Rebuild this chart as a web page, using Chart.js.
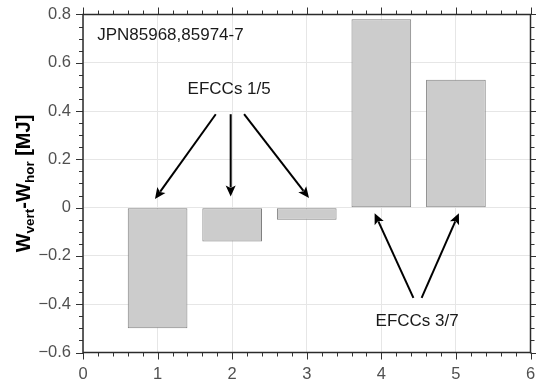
<!DOCTYPE html>
<html><head><meta charset="utf-8">
<script src="https://cdn.jsdelivr.net/npm/chart.js@4/dist/chart.umd.min.js"></script>
<style>html,body{margin:0;padding:0;background:#fff}</style>
</head><body>
<canvas id="c" width="536" height="382" style="display:block;width:536px;height:382px"></canvas>
<script>
// ---- data ----
const positions = [1, 2, 3, 4, 5];
const values = [-0.5, -0.14, -0.05, 0.78, 0.53];
const xTickValues = [0, 1, 2, 3, 4, 5, 6];
const yTickValues = [-0.6, -0.4, -0.2, 0, 0.2, 0.4, 0.6, 0.8];
const labelTexts = ['JPN85968,85974-7', 'EFCCs 1/5', 'EFCCs 3/7'];
const labelX = [0.19, 1.96, 4.48];
const labelY = [0.713, 0.49, -0.47];
const arrowFromX = [1.78, 1.98, 2.16, 4.43, 4.54];
const arrowFromY = [0.387, 0.387, 0.387, -0.374, -0.374];
const arrowToX = [0.965, 1.98, 3.03, 3.91, 5.04];
const arrowToY = [0.036, 0.046, 0.04, -0.023, -0.023];

const FONT = '"Liberation Sans", Arial, Helvetica, sans-serif';

function fmt(v) {
  const r = Math.round(v * 10) / 10;
  const s = String(Math.abs(r));
  return (r < 0 ? '\u2212' : '') + s;
}
function noPad(s) { s.paddingTop = 0; s.paddingBottom = 0; s.paddingLeft = 0; s.paddingRight = 0; }

const deco = {
  id: 'deco',
  afterDraw(chart) {
    const ctx = chart.ctx, xs = chart.scales.x, ys = chart.scales.y, a = chart.chartArea;
    ctx.save();
    // minor/major ticks on all four sides
    ctx.strokeStyle = '#333';
    ctx.lineWidth = 1;
    ctx.beginPath();
    const xmin = xTickValues[0], xmax = xTickValues[xTickValues.length - 1];
    const nx = Math.round((xmax - xmin) / 0.2);
    for (let i = 0; i <= nx; i++) {
      const px = Math.round(xs.getPixelForValue(xmin + i * 0.2)) + 0.5;
      const L = i % 5 === 0 ? 7 : 4;
      ctx.moveTo(px, a.bottom); ctx.lineTo(px, a.bottom + L);
      ctx.moveTo(px, a.top); ctx.lineTo(px, a.top - L);
    }
    const ymin = yTickValues[0], ymax = yTickValues[yTickValues.length - 1];
    const ny = Math.round((ymax - ymin) / 0.05);
    for (let i = 0; i <= ny; i++) {
      const py = Math.round(ys.getPixelForValue(ymin + i * 0.05)) + 0.5;
      const L = i % 4 === 0 ? 7 : 4;
      ctx.moveTo(a.left, py); ctx.lineTo(a.left - L, py);
      ctx.moveTo(a.right, py); ctx.lineTo(a.right + L, py);
    }
    ctx.stroke();
    // frame
    ctx.strokeStyle = '#2b2b2b';
    ctx.lineWidth = 1.5;
    ctx.strokeRect(a.left, a.top, a.right - a.left, a.bottom - a.top);

    // arrows
    ctx.strokeStyle = '#000'; ctx.fillStyle = '#000'; ctx.lineWidth = 2;
    for (let i = 0; i < arrowFromX.length; i++) {
      const x0 = xs.getPixelForValue(arrowFromX[i]), y0 = ys.getPixelForValue(arrowFromY[i]);
      const x1 = xs.getPixelForValue(arrowToX[i]), y1 = ys.getPixelForValue(arrowToY[i]);
      const ang = Math.atan2(y1 - y0, x1 - x0);
      const hl = 11, hw = 5;
      const bx = x1 - hl * Math.cos(ang), by = y1 - hl * Math.sin(ang);
      ctx.beginPath(); ctx.moveTo(x0, y0); ctx.lineTo(bx + 2 * Math.cos(ang), by + 2 * Math.sin(ang)); ctx.stroke();
      ctx.beginPath();
      ctx.moveTo(x1, y1);
      ctx.lineTo(bx - hw * Math.sin(ang), by + hw * Math.cos(ang));
      ctx.lineTo(bx + 2.5 * Math.cos(ang), by + 2.5 * Math.sin(ang));
      ctx.lineTo(bx + hw * Math.sin(ang), by - hw * Math.cos(ang));
      ctx.closePath(); ctx.fill();
    }

    // text labels
    ctx.fillStyle = '#1a1a1a';
    ctx.font = '17px ' + FONT;
    ctx.textBaseline = 'middle';
    for (let i = 0; i < labelTexts.length; i++) {
      ctx.textAlign = i === 0 ? 'left' : 'center';
      ctx.fillText(labelTexts[i], xs.getPixelForValue(labelX[i]), ys.getPixelForValue(labelY[i]));
    }

    // y axis title with subscripts
    const parts = [
      ['W', 20, 0], ['vert', 13.5, 4], ['-', 20, 0], ['W', 20, 0], ['hor', 13.5, 4], [' [MJ]', 20, 0]
    ];
    let total = 0;
    for (const p of parts) { ctx.font = 'bold ' + p[1] + 'px ' + FONT; total += ctx.measureText(p[0]).width; }
    ctx.translate(30, (a.top + a.bottom) / 2);
    ctx.rotate(-Math.PI / 2);
    ctx.textAlign = 'left'; ctx.textBaseline = 'alphabetic';
    ctx.fillStyle = '#000';
    let x = -total / 2;
    for (const p of parts) {
      ctx.font = 'bold ' + p[1] + 'px ' + FONT;
      ctx.fillText(p[0], x, p[2]);
      x += ctx.measureText(p[0]).width;
    }
    ctx.restore();
  }
};

new Chart(document.getElementById('c'), {
  type: 'bar',
  data: {
    datasets: [{
      data: positions.map((p, i) => ({ x: p, y: values[i] })),
      backgroundColor: '#cccccc',
      borderColor: '#808080',
      borderWidth: 1,
      borderSkipped: false,
      categoryPercentage: 1,
      barPercentage: 0.8
    }]
  },
  options: {
    responsive: false,
    animation: false,
    devicePixelRatio: 1,
    layout: { padding: { left: 0, right: 5.5, top: 14.5, bottom: 0 } },
    plugins: { legend: { display: false }, tooltip: { enabled: false } },
    scales: {
      x: {
        type: 'linear',
        offset: false,
        min: xTickValues[0], max: xTickValues[xTickValues.length - 1],
        afterBuildTicks: s => { s.ticks = xTickValues.map(v => ({ value: v })); },
        afterFit: s => { s.height = 29.5; noPad(s); },
        ticks: { padding: 12, color: '#505050', font: { family: FONT, size: 16.5 }, maxRotation: 0, callback: v => fmt(v) },
        grid: { color: '#e6e6e6', lineWidth: 1, drawTicks: false, offset: false },
        border: { display: false }
      },
      y: {
        min: yTickValues[0], max: yTickValues[yTickValues.length - 1],
        afterBuildTicks: s => { s.ticks = yTickValues.map(v => ({ value: v })); },
        afterFit: s => { s.width = 83; noPad(s); },
        ticks: { padding: 12, color: '#505050', font: { family: FONT, size: 16.5 }, callback: v => fmt(v) },
        grid: { color: '#e6e6e6', lineWidth: 1, drawTicks: false },
        border: { display: false }
      }
    }
  },
  plugins: [deco]
});
</script>
</body></html>
